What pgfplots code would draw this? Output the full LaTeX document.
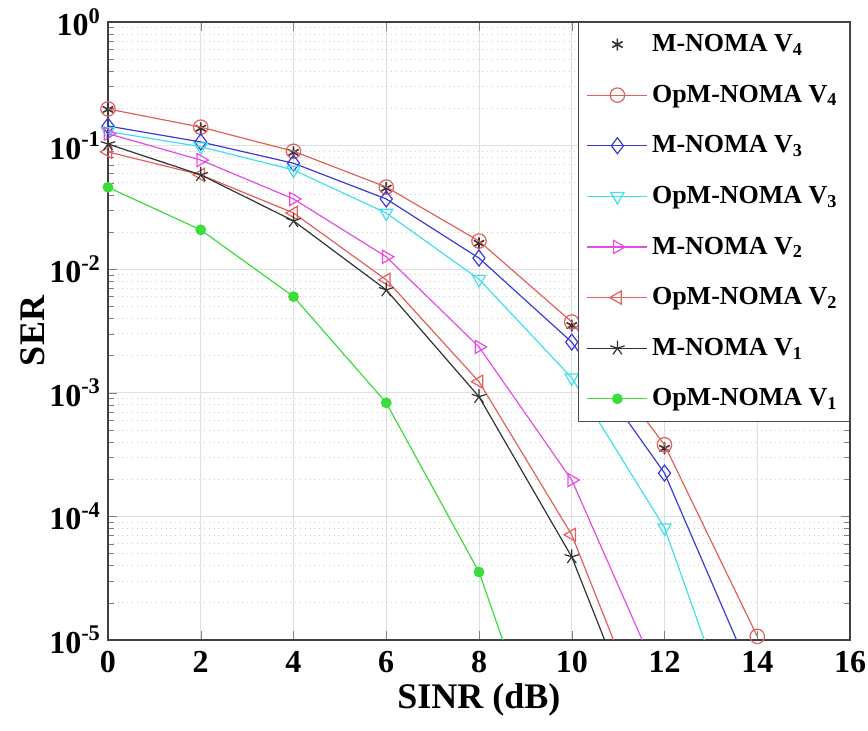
\documentclass[border=0pt]{standalone}
\usepackage{fontspec}
\setmainfont{Liberation Serif}
\usepackage{pgfplots}
\pgfplotsset{compat=1.18}

\definecolor{cRed}{HTML}{E2605A}
\definecolor{cBlue}{HTML}{3A3AD8}
\definecolor{cCyan}{HTML}{40E0EA}
\definecolor{cMag}{HTML}{E64BE6}
\definecolor{cGreen}{HTML}{3CDC3C}
\definecolor{cBlack}{HTML}{333333}

\pgfplotsset{
  linelegend/.style={legend image code/.code={
    \draw[##1, mark=none] (0pt,0pt) -- (30pt,0pt);
    \draw[##1, mark indices={1}] plot coordinates {(15pt,0pt)};}},
  marklegend/.style={legend image code/.code={
    \draw[##1, mark indices={1}] plot coordinates {(15pt,0pt)};}},
}

\begin{document}
\begin{tikzpicture}
\begin{axis}[
  scale only axis,
  width=371pt, height=309pt,
  xmin=0, xmax=16, ymode=log, ymin=1e-5, ymax=1,
  xtick={0,2,...,16},
  ytick={1e-5,1e-4,1e-3,1e-2,1e-1,1},
  yticklabels={10\textsuperscript{-5},10\textsuperscript{-4},10\textsuperscript{-3},10\textsuperscript{-2},10\textsuperscript{-1},10\textsuperscript{0}},
  ticklabel style={font=\fontsize{16}{18}\selectfont\bfseries},
  /pgf/number format/assume math mode=true,
  xticklabel={\pgfmathprintnumber{\tick}},
  xticklabel style={yshift=-2pt},
  xlabel={SINR (dB)}, ylabel={SER},
  label style={font=\fontsize{18}{20}\selectfont\bfseries},
  xlabel style={at={(axis description cs:0.5,-0.097)}, anchor=center},
  ylabel style={at={(axis description cs:-0.102,0.5)}, anchor=center},
  grid=both,
  major grid style={gray!25, line width=0.4pt},
  minor grid style={gray!40, dotted, line width=0.4pt},
  tick align=inside,
  axis line style={black!75, line width=0.6pt},
  clip mode=individual,
  every axis plot/.append style={line width=0.6pt},
  legend cell align=left,
  legend style={at={(1,1)}, anchor=north east, draw=black!70,
    font=\fontsize{13}{15}\selectfont\bfseries,
    row sep=11.2pt, inner sep=4pt},
  linelegend,
]
\coordinate (sw) at (rel axis cs:0,0);
\coordinate (ne) at (rel axis cs:1,1);
% M-NOMA V4 (marks only)
\addplot[only marks, mark=asterisk, mark size=3pt, color=cBlack, mark options={line width=0.8pt}, marklegend] coordinates {
  (0,0.196)(2,0.138)(4,0.088)(6,0.0452)(8,0.0162)(10,0.0035)(12,3.55e-4)
};
\addlegendentry{M-NOMA V\textsubscript{4}}
% OpM-NOMA V4
\addplot[color=cRed, mark=o, mark size=3.6pt] coordinates {
  (0,0.198)(2,0.141)(4,0.090)(6,0.0462)(8,0.0169)(10,0.00374)(12,3.8e-4)(14,1.07e-5)
};
\addlegendentry{OpM-NOMA V\textsubscript{4}}
% M-NOMA V3
\addplot[color=cBlue, mark=diamond, mark size=4pt, mark indices={1,...,7}] coordinates {
  (0,0.144)(2,0.107)(4,0.072)(6,0.037)(8,0.0123)(10,0.00257)(12,2.24e-4)(14,4.1e-6)
};
\addlegendentry{M-NOMA V\textsubscript{3}}
% OpM-NOMA V3
\addplot[color=cCyan, mark=triangle, mark size=3.8pt, mark options={rotate=180}, mark indices={1,...,7}] coordinates {
  (0,0.130)(2,0.098)(4,0.0635)(6,0.0285)(8,0.0083)(10,0.00132)(12,8.1e-5)(14,6.2e-7)
};
\addlegendentry{OpM-NOMA V\textsubscript{3}}
% M-NOMA V2
\addplot[color=cMag, mark=triangle, mark size=3.8pt, mark options={rotate=-90}, mark indices={1,...,6}] coordinates {
  (0,0.125)(2,0.0764)(4,0.037)(6,0.0126)(8,0.00235)(10,1.97e-4)(12,3.9e-6)
};
\addlegendentry{M-NOMA V\textsubscript{2}}
% OpM-NOMA V2
\addplot[color=cRed, mark=triangle, mark size=3.8pt, mark options={rotate=90}, mark indices={1,...,6}] coordinates {
  (0,0.089)(2,0.058)(4,0.0285)(6,0.0082)(8,0.00123)(10,7.1e-5)(12,9.1e-7)
};
\addlegendentry{OpM-NOMA V\textsubscript{2}}
% M-NOMA V1
\addplot[color=cBlack, mark=star, mark size=3.8pt, mark indices={1,...,6}] coordinates {
  (0,0.103)(2,0.058)(4,0.0246)(6,0.0068)(8,9.3e-4)(10,4.7e-5)(12,6.0e-7)
};
\addlegendentry{M-NOMA V\textsubscript{1}}
% OpM-NOMA V1
\addplot[color=cGreen, mark=*, mark size=2.4pt, mark indices={1,...,5}] coordinates {
  (0,0.046)(2,0.0208)(4,0.0060)(6,8.3e-4)(8,3.55e-5)(10,2.5e-7)
};
\addlegendentry{OpM-NOMA V\textsubscript{1}}
\end{axis}
\pgfresetboundingbox
\path (ne) ++(9pt,11pt) coordinate (b);
\path (sw) ++(-54pt,-45.5pt) rectangle (b);
\end{tikzpicture}
\end{document}
